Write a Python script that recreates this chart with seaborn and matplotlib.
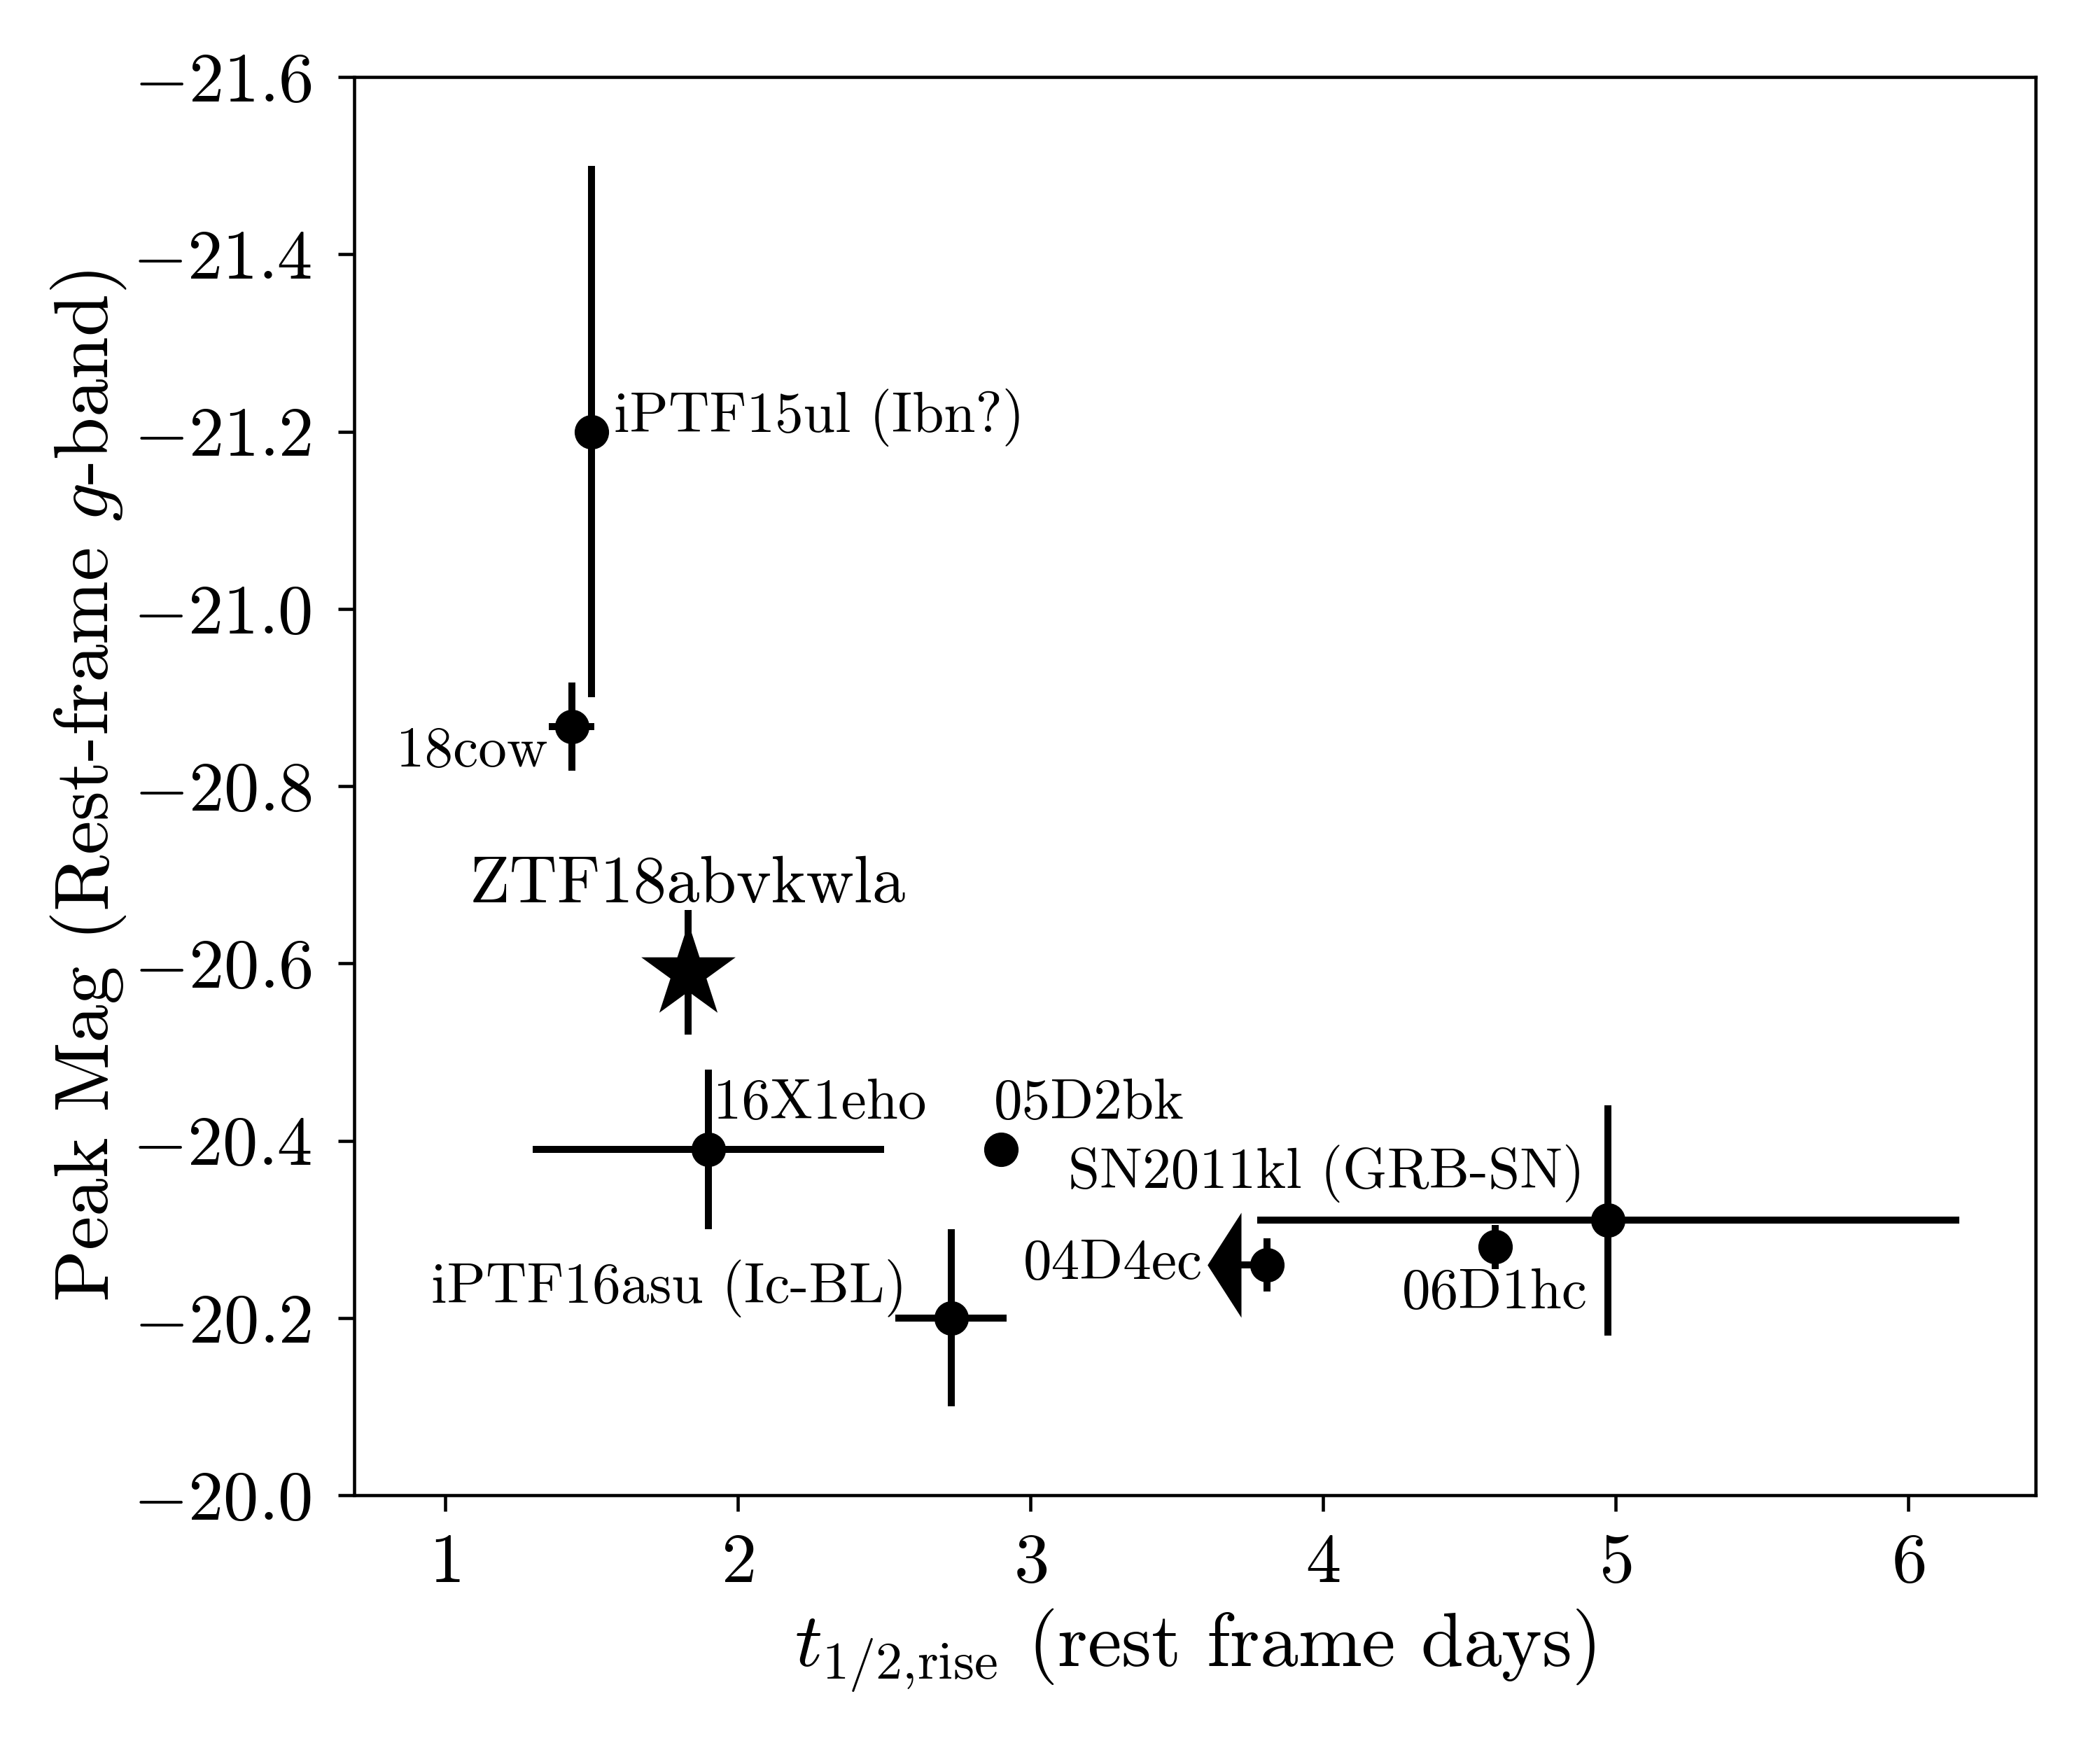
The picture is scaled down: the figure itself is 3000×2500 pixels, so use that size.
import numpy as np
import pandas as pd
import matplotlib
matplotlib.use("Agg")
import matplotlib.pyplot as plt
import seaborn as sns

# ---------------- data ----------------
names = ["iPTF15ul (Ibn?)", "18cow", "16X1eho", "05D2bk",
         "iPTF16asu (Ic-BL)", "04D4ec", "06D1hc", "SN2011kl (GRB-SN)"]
t_rise = [1.50, 1.433, 1.90, 2.90, 2.73, 3.81, 4.59, 4.975]
t_err_lo = [0.0, 0.077, 0.60, 0.0, 0.19, 0.09, 0.0, 1.20]
t_err_hi = [0.0, 0.077, 0.60, 0.0, 0.19, 0.0, 0.0, 1.20]
peak_mag = [-21.20, -20.867, -20.39, -20.39, -20.20, -20.26, -20.28, -20.31]
mag_err = [0.30, 0.05, 0.09, 0.0, 0.10, 0.03, 0.025, 0.13]
upper_limit = [False, False, False, False, False, True, False, False]

ztf_name = "ZTF18abvkwla"
ztf_t = [1.83]
ztf_mag = [-20.59]
ztf_err = [0.07]

x_ticks = [1, 2, 3, 4, 5, 6]
y_ticks = [-21.6, -21.4, -21.2, -21.0, -20.8, -20.6, -20.4, -20.2, -20.0]

# label placement (data coords) and alignment
label_pos = [(1.578, -21.200, "left"), (1.352, -20.822, "right"),
             (1.918, -20.425, "left"), (2.875, -20.425, "left"),
             (2.578, -20.217, "right"), (3.590, -20.244, "right"),
             (4.905, -20.211, "right"), (4.894, -20.347, "right")]
ztf_label_pos = (1.83, -20.669)

# ---------------- style ----------------
sns.set_style("ticks")
plt.rcParams.update({
    "font.family": ["cmr10", "DejaVu Serif"],
    "mathtext.fontset": "cm",
    "axes.formatter.use_mathtext": True,
    "axes.unicode_minus": True,
    "axes.edgecolor": "black",
    "axes.linewidth": 1.1,
    "xtick.color": "black",
    "ytick.color": "black",
    "text.color": "black",
    "axes.labelcolor": "black",
})

df = pd.DataFrame({"name": names, "t": t_rise, "mag": peak_mag})
ztf_df = pd.DataFrame({"t": ztf_t, "mag": ztf_mag})

fig = plt.figure(figsize=(10, 25 / 3), dpi=300)
ax = fig.add_axes([0.1687, 0.1456, 0.8006, 0.8104])

elw = 2.4
# error bars
for i in range(len(names)):
    xe = [[t_err_lo[i]], [t_err_hi[i]]]
    ye = [[mag_err[i]], [mag_err[i]]]
    if t_err_lo[i] > 0 or t_err_hi[i] > 0:
        ax.errorbar([t_rise[i]], [peak_mag[i]], xerr=xe, fmt="none",
                    ecolor="black", elinewidth=elw, capsize=0, zorder=2)
    if mag_err[i] > 0:
        ax.errorbar([t_rise[i]], [peak_mag[i]], yerr=ye, fmt="none",
                    ecolor="black", elinewidth=elw, capsize=0, zorder=2)
    if upper_limit[i]:
        arrow = [(-0.644, 0.0), (0.0, 1.0), (0.0, -1.0), (-0.644, 0.0)]
        ax.plot([t_rise[i] - t_err_lo[i]], [peak_mag[i]], linestyle="none",
                marker=arrow, markersize=36, color="black", mew=0, zorder=3)

ax.errorbar(ztf_t, ztf_mag, yerr=ztf_err, fmt="none", ecolor="black",
            elinewidth=elw, capsize=0, zorder=2)

sns.scatterplot(data=df, x="t", y="mag", ax=ax, color="black", marker="o",
                s=11.5 ** 2, edgecolor="black", linewidth=0.3, zorder=3,
                legend=False)
sns.scatterplot(data=ztf_df, x="t", y="mag", ax=ax, color="black", marker="*",
                s=34 ** 2, edgecolor="black", linewidth=0, zorder=3,
                legend=False)

# labels
for nm, (lx, ly, ha) in zip(names, label_pos):
    ax.text(lx, ly, nm, ha=ha, va="baseline", fontsize=19.5)
ax.text(ztf_label_pos[0], ztf_label_pos[1], ztf_name, ha="center",
        va="baseline", fontsize=22.7)

ax.set_xlim(0.690, 6.436)
ax.set_ylim(-20.0, -21.6)
ax.set_xticks(x_ticks)
ax.set_yticks(y_ticks)
ax.xaxis.set_major_formatter(matplotlib.ticker.FuncFormatter(
    lambda v, p: r"$\mathdefault{%d}$" % v))
ax.yaxis.set_major_formatter(matplotlib.ticker.FuncFormatter(
    lambda v, p: r"$\mathdefault{%s}$" % ("%.1f" % v).replace("-", "\u2212")))
ax.tick_params(axis="both", which="major", length=5.5, width=1.1,
               labelsize=24.2, direction="out")
ax.tick_params(axis="x", pad=7.5)
ax.tick_params(axis="y", pad=9)

ax.set_xlabel(r"$t_{1/2{,}\mathrm{rise}}$ (rest frame days)", fontsize=26.2)
ax.set_ylabel(r"Peak Mag (Rest-frame $g$-band)", fontsize=26.2, labelpad=1.5)
for s in ["top", "right", "left", "bottom"]:
    ax.spines[s].set_visible(True)
    ax.spines[s].set_linewidth(1.1)

fig.savefig("out.png", dpi=300)
